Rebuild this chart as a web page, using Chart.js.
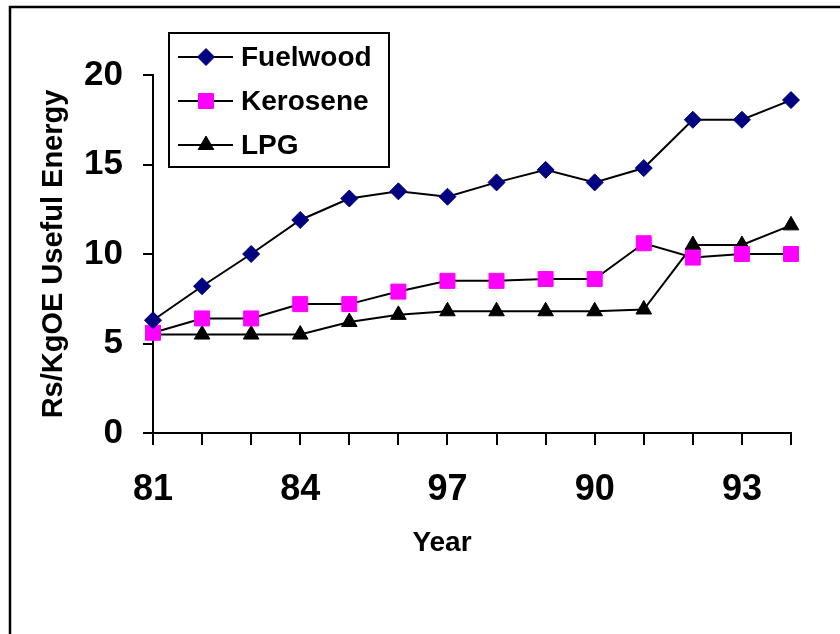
<!DOCTYPE html>
<html>
<head>
<meta charset="utf-8">
<script src="https://cdn.jsdelivr.net/npm/chart.js@4/dist/chart.umd.min.js"></script>
<style>
  body { margin: 0; background: #fff; }
  #wrap { width: 840px; height: 634px; position: relative; }
</style>
</head>
<body>
<div id="wrap"><canvas id="lienzo"></canvas></div>
<script>
// data
const years = ["81","82","83","84","85","86","87","88","89","90","91","92","93","94"]
const tickLabels = ["81","","","84","","","97","","","90","","","93",""]
const fuelwood = [6.3, 8.2, 10.0, 11.9, 13.1, 13.5, 13.2, 14.0, 14.7, 14.0, 14.8, 17.5, 17.5, 18.6]
const kerosene = [5.6, 6.4, 6.4, 7.2, 7.2, 7.9, 8.5, 8.5, 8.6, 8.6, 10.6, 9.8, 10.0, 10.0]
const lpg = [5.5, 5.5, 5.5, 5.5, 6.2, 6.6, 6.8, 6.8, 6.8, 6.8, 6.9, 10.5, 10.5, 11.6]
const yTicks = [0, 5, 10, 15, 20]

const fam = "'Liberation Sans', Arial, sans-serif"

// frame round the whole picture
const frame = {
    id: "frame",
    beforeDraw(chart) {
        const c = chart.ctx
        c.save()
        c.fillStyle = "#fff"
        c.fillRect(0, 0, chart.width, chart.height)
        c.strokeStyle = "#000"
        c.lineWidth = 2.5
        c.strokeRect(10, 7, 900, 700)
        c.restore()
    }
}

// boxed legend inside the plot, like the old excel one
const boxLegend = {
    id: "boxLegend",
    afterDraw(chart) {
        const c = chart.ctx
        c.save()
        c.strokeStyle = "#000"
        c.lineWidth = 2
        c.strokeRect(169, 33, 220, 134)
        c.font = "bold 28px " + fam
        c.textBaseline = "middle"
        chart.data.datasets.forEach((ds, i) => {
            const y = 57 + i * 44
            c.strokeStyle = "#000"
            c.lineWidth = 2
            c.beginPath()
            c.moveTo(178, y)
            c.lineTo(233, y)
            c.stroke()
            c.fillStyle = ds.pointBackgroundColor
            c.strokeStyle = ds.pointBorderColor
            c.lineWidth = 1
            Chart.helpers.drawPoint(c, {pointStyle: ds.pointStyle, radius: ds.pointRadius, rotation: 0, borderWidth: 1}, 206, y)
            c.fillStyle = "#000"
            c.fillText(ds.label, 241, y + 1)
        })
        c.restore()
    }
}

// x axis title, sits a bit left of the plot centre
const xTitle = {
    id: "xTitle",
    afterDraw(chart) {
        const c = chart.ctx
        const a = chart.chartArea
        c.save()
        c.font = "bold 28px " + fam
        c.fillStyle = "#000"
        c.textAlign = "center"
        c.textBaseline = "middle"
        c.fillText("Year", (a.left + a.right) / 2 - 30, 543)
        c.restore()
    }
}

const ctx = document.getElementById("lienzo")
new Chart(ctx, {
    type: "line",
    data: {
        labels: years,
        datasets: [
            {label: "Fuelwood", data: fuelwood, borderColor: "#000", borderWidth: 2,
             pointStyle: "rectRot", pointRadius: 8.5, pointBackgroundColor: "#000080", pointBorderColor: "#000080",
             pointBorderWidth: 1, clip: false},
            {label: "Kerosene", data: kerosene, borderColor: "#000", borderWidth: 2,
             pointStyle: "rect", pointRadius: 10.6, pointBackgroundColor: "#ff00ff", pointBorderColor: "#ff00ff",
             pointBorderWidth: 1, clip: false},
            {label: "LPG", data: lpg, borderColor: "#000", borderWidth: 2,
             pointStyle: "triangle", pointRadius: 9, pointBackgroundColor: "#000", pointBorderColor: "#000",
             pointBorderWidth: 1, clip: false}
        ]
    },
    options: {
        responsive: true,
        maintainAspectRatio: false,
        animation: false,
        layout: {padding: {top: 75, right: 49, bottom: 0, left: 0}},
        plugins: {legend: {display: false}, tooltip: {enabled: false}},
        scales: {
            x: {
                offset: false,
                grid: {drawOnChartArea: false, color: "#000", tickLength: 12, lineWidth: 2},
                border: {color: "#000", width: 2},
                ticks: {
                    autoSkip: false, maxRotation: 0, color: "#000", padding: 23,
                    font: {family: fam, size: 36, weight: "bold"},
                    callback: (v, i) => tickLabels[i]
                },
                afterFit: (s) => { s.height = 634 - 433 }
            },
            y: {
                min: 0, max: 20,
                afterBuildTicks: (s) => { s.ticks = yTicks.map(v => ({value: v})) },
                grid: {drawOnChartArea: false, color: "#000", tickLength: 10, lineWidth: 2},
                border: {color: "#000", width: 2},
                ticks: {color: "#000", padding: 20, font: {family: fam, size: 35, weight: "bold"}},
                title: {display: true, text: "Rs/KgOE Useful Energy", color: "#000",
                        font: {family: fam, size: 29, weight: "bold"}, padding: {top: 37, bottom: 0}},
                afterFit: (s) => { s.width = 153 }
            }
        }
    },
    plugins: [frame, boxLegend, xTitle]
})
</script>
</body>
</html>
